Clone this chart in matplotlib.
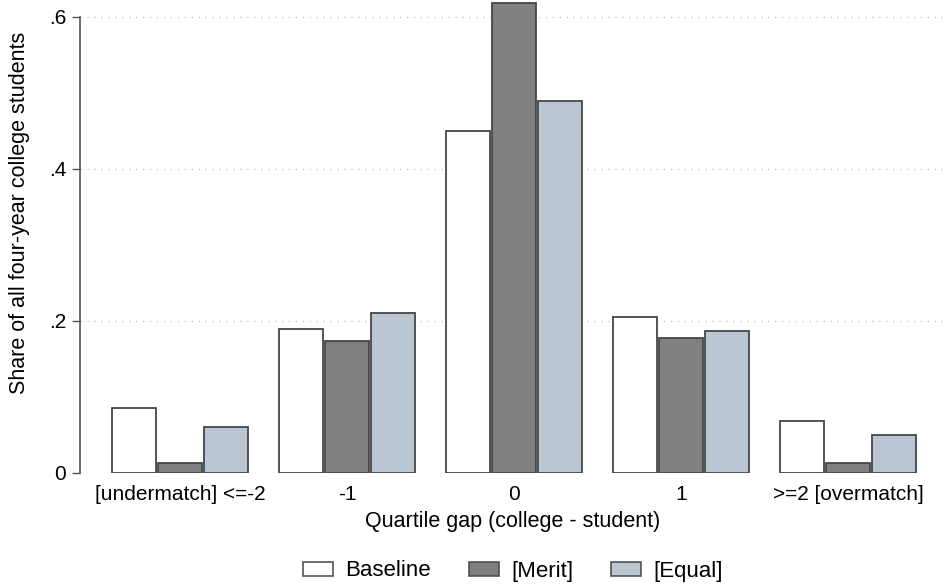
"""
Share of four-year college students by quartile gap (college - student).
"""

import matplotlib
matplotlib.use("Agg")
import matplotlib.pyplot as plt
from matplotlib.patches import Patch
import numpy as np

categories = ["[undermatch] <=-2", "-1", "0", "1", ">=2 [overmatch]"]
series_names = ["Baseline", "[Merit]", "[Equal]"]
baseline = [0.085, 0.189, 0.450, 0.205, 0.069]
merit = [0.0135, 0.174, 0.618, 0.178, 0.013]
equal = [0.060, 0.210, 0.490, 0.187, 0.050]
y_ticks = [0, 0.2, 0.4, 0.6]
y_tick_labels = ["0", ".2", ".4", ".6"]

C = {"baseline": "#FFFFFF", "merit": "#808080", "equal": "#BAC6D2",
     "edge": "#474747", "grid": "#C8C8C8", "axis": "#555555"}

plt.rcParams.update({
    "font.family": ["Liberation Sans", "DejaVu Sans"],
    "font.size": 15,
})

fig = plt.figure(figsize=(9.46, 5.88), dpi=100)
ax = fig.add_axes([80 / 946, 1 - 473 / 588, 866 / 946, (473 - 1.8) / 588])

x = np.arange(len(categories))
w = 44 / 167
pitch = 46 / 167
colors = [C["baseline"], C["merit"], C["equal"]]
for i, vals in enumerate([baseline, merit, equal]):
    ax.bar(x + (i - 1) * pitch, vals, width=w, color=colors[i],
           edgecolor=C["edge"], linewidth=1.3, zorder=3)

ax.set_xlim(-0.6, 4.585)
ax.set_ylim(0, 0.62)

for yv in y_ticks:
    ax.axhline(yv, color=C["grid"], lw=1.0, ls=(0, (1, 4)), zorder=1)

ax.set_yticks(y_ticks)
ax.set_yticklabels(y_tick_labels)
ax.set_xticks(x)
ax.set_xticklabels(categories)
ax.tick_params(axis="x", length=0, pad=9, labelsize=15)
ax.tick_params(axis="y", length=6, width=1, color=C["axis"], pad=4, labelsize=15)

for s in ["top", "right", "bottom"]:
    ax.spines[s].set_visible(False)
ax.spines["left"].set_color(C["axis"])
ax.spines["left"].set_linewidth(1.2)
ax.spines["left"].set_bounds(0, 0.6)

ax.set_xlabel("Quartile gap (college - student)", fontsize=15.5, labelpad=5)
ax.set_ylabel("Share of all four-year college students", fontsize=15.5)
ax.yaxis.set_label_coords(-0.0577, 0.552)

handles = [Patch(facecolor=c, edgecolor=C["edge"], linewidth=1.1) for c in colors]
fig.legend(handles, series_names, loc="center", bbox_to_anchor=(513 / 946, 1 - 571 / 588),
           ncol=3, frameon=False, fontsize=16, handlelength=1.35, handleheight=0.6,
           columnspacing=1.7, handletextpad=0.55)

fig.savefig("out.png", dpi=100, facecolor="white")
